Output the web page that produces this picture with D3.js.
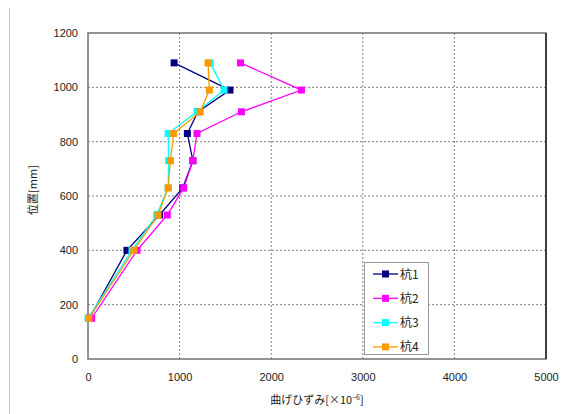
<!DOCTYPE html>
<html><head><meta charset="utf-8">
<script src="https://cdn.jsdelivr.net/npm/d3@7"></script>
<style>body{margin:0;background:#fff;}svg{display:block;font-family:"Noto Sans CJK JP","DejaVu Sans",sans-serif;}</style>
</head><body><svg id="c" width="563" height="414"></svg>
<script>
const positions = [1090, 990, 910, 830, 730, 630, 530, 400, 150];
const seriesNames = ["杭1", "杭2", "杭3", "杭4"];
const pile1 = [940, 1550, 1200, 1085, 1145, 1035, 780, 425, 15];
const pile2 = [1665, 2330, 1675, 1190, 1145, 1045, 865, 535, 40];
const pile3 = [1335, 1485, 1190, 875, 880, 875, 750, 480, 0];
const pile4 = [1310, 1325, 1225, 935, 900, 875, 765, 500, 10];
const xTicks = [0, 1000, 2000, 3000, 4000, 5000];
const yTicks = [0, 200, 400, 600, 800, 1000, 1200];
const colors = ["#000080", "#ff00ff", "#00ffff", "#ff9900"];
const allSeries = [pile1, pile2, pile3, pile4];

const svg = d3.select("#c");
const L = 88, T = 33, R = 546, B = 359;
const x = d3.scaleLinear().domain([0, 5000]).range([L, R]);
const y = d3.scaleLinear().domain([0, 1200]).range([B, T]);

// outer frame line
svg.append("line").attr("x1", 9.5).attr("x2", 9.5).attr("y1", 8).attr("y2", 414)
  .attr("stroke", "#c8c8c8").attr("stroke-width", 1);

// grid
const g = svg.append("g");
g.selectAll(".gx").data(xTicks.filter(d => d > 0 && d < 5000)).join("line")
  .attr("x1", d => x(d)).attr("x2", d => x(d)).attr("y1", T).attr("y2", B)
  .attr("stroke", "#808080").attr("stroke-width", 1).attr("stroke-dasharray", "2,2");
g.selectAll(".gy").data(yTicks.filter(d => d > 0 && d < 1200)).join("line")
  .attr("y1", d => y(d)).attr("y2", d => y(d)).attr("x1", L).attr("x2", R)
  .attr("stroke", "#808080").attr("stroke-width", 1).attr("stroke-dasharray", "2,2");

// plot border
svg.append("rect").attr("x", L).attr("y", T).attr("width", R - L).attr("height", B - T)
  .attr("fill", "none").attr("stroke", "#707070").attr("stroke-width", 1.5);
svg.append("line").attr("x1", R).attr("x2", R).attr("y1", T).attr("y2", B)
  .attr("stroke", "#202020").attr("stroke-width", 1.5);

// axes
const xAxis = d3.axisBottom(x).tickValues(xTicks).tickSize(0).tickPadding(14).tickFormat(d3.format("d"));
const yAxis = d3.axisLeft(y).tickValues(yTicks).tickSize(0).tickPadding(10).tickFormat(d3.format("d"));
const ax = svg.append("g").attr("transform", `translate(0,${B})`).call(xAxis);
const ay = svg.append("g").attr("transform", `translate(${L},0)`).call(yAxis);
[ax, ay].forEach(a => {
  a.select(".domain").remove();
  a.selectAll("text").attr("font-size", 11).attr("fill", "#222").attr("font-family", "Arial, Liberation Sans, sans-serif");
});

// axis titles
svg.append("text").attr("x", 317).attr("y", 404).attr("text-anchor", "middle")
  .attr("font-size", 11).attr("fill", "#222")
  .html('曲げひずみ[×10<tspan dy="-4" font-size="7">−6</tspan><tspan dy="4">]</tspan>');
svg.append("text").attr("transform", "translate(37,190) rotate(-90)").attr("text-anchor", "middle")
  .attr("font-size", 11).attr("fill", "#222").text("位置[mm]");

// series
const line = d3.line().x(d => x(d[0])).y(d => y(d[1]));
allSeries.forEach((s, i) => {
  const pts = s.map((v, k) => [v, positions[k]]);
  svg.append("path").datum(pts).attr("d", line).attr("fill", "none")
    .attr("stroke", colors[i]).attr("stroke-width", 1.3);
  svg.selectAll(null).data(pts).join("rect")
    .attr("x", d => x(d[0]) - 3.5).attr("y", d => y(d[1]) - 3.5)
    .attr("width", 7).attr("height", 7).attr("fill", colors[i]);
});

// legend
const lg = svg.append("g");
lg.append("rect").attr("x", 364.5).attr("y", 262.5).attr("width", 64).attr("height", 92)
  .attr("fill", "#fff").attr("stroke", "#999").attr("stroke-width", 1);
seriesNames.forEach((n, i) => {
  const yy = 274 + i * 24.3;
  lg.append("line").attr("x1", 373).attr("x2", 398).attr("y1", yy).attr("y2", yy)
    .attr("stroke", colors[i]).attr("stroke-width", 1.3);
  lg.append("rect").attr("x", 382).attr("y", yy - 3.5).attr("width", 7).attr("height", 7).attr("fill", colors[i]);
  lg.append("text").attr("x", 400).attr("y", yy + 4.5).attr("font-size", 12).attr("fill", "#222").text(n);
});
</script></body></html>
